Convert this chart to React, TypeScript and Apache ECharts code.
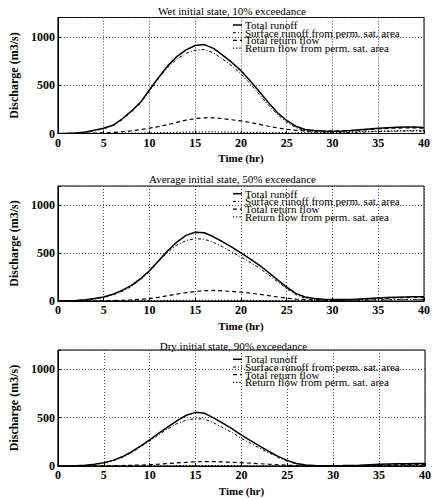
import React, { useEffect, useRef } from "react";
import * as echarts from "echarts";

// Hours since the start of the event (x axis)
const hours = [
  0, 1, 2, 3, 4, 5, 6, 7, 8, 9, 10, 11, 12, 13, 14, 15, 16, 17, 18, 19, 20,
  21, 22, 23, 24, 25, 26, 27, 28, 29, 30, 31, 32, 33, 34, 35, 36, 37, 38, 39, 40,
];

const seriesNames = [
  "Total runoff",
  "Surface runoff from perm. sat. area",
  "Total return flow",
  "Return flow from perm. sat. area",
];

const panelTitles = [
  "Wet initial state, 10% exceedance",
  "Average initial state, 50% exceedance",
  "Dry initial state, 90% exceedance",
];

const yTicks = [0, 500, 1000];
const xTicks = [0, 5, 10, 15, 20, 25, 30, 35, 40];

// Wet initial state (m3/s)
const wetTotal = [
  0, 2, 5, 15, 35, 55, 85, 150, 230, 320, 450, 580, 700, 795, 865, 910, 920, 880, 810, 735, 650,
  545, 435, 320, 215, 135, 75, 42, 30, 25, 24, 27, 32, 38, 46, 54, 60, 64, 66, 66, 62,
];
const wetSurface = [
  0, 1, 3, 10, 28, 48, 78, 140, 220, 310, 440, 570, 685, 770, 830, 862, 868, 835, 770, 700, 615,
  515, 405, 295, 195, 118, 60, 28, 15, 10, 8, 9, 11, 14, 17, 20, 22, 24, 25, 26, 25,
];
const wetReturn = [
  0, 0, 1, 2, 4, 7, 11, 18, 28, 40, 55, 72, 92, 115, 138, 155, 163, 162, 154, 142, 130,
  115, 95, 75, 58, 43, 33, 27, 25, 24, 24, 26, 30, 35, 42, 48, 53, 56, 58, 58, 55,
];
const wetPermReturn = [
  0, 0, 0, 1, 1, 2, 2, 3, 4, 5, 6, 8, 10, 12, 14, 15, 16, 16, 15, 14, 13,
  12, 11, 10, 9, 8, 8, 9, 10, 11, 12, 14, 16, 19, 22, 25, 27, 29, 30, 31, 30,
];

// Average initial state (m3/s)
const avgTotal = [
  0, 1, 4, 12, 25, 42, 70, 110, 160, 230, 315, 420, 525, 615, 685, 718, 712, 670, 618, 562, 502,
  440, 375, 300, 220, 145, 80, 42, 25, 18, 15, 15, 16, 20, 26, 32, 36, 40, 42, 44, 45,
];
const avgSurface = [
  0, 0, 2, 8, 20, 36, 62, 100, 150, 220, 305, 410, 510, 585, 630, 650, 645, 612, 565, 512, 460,
  405, 345, 275, 200, 128, 65, 30, 12, 8, 6, 6, 7, 8, 10, 12, 13, 14, 15, 16, 16,
];
const avgReturn = [
  0, 0, 0, 1, 2, 3, 5, 8, 12, 18, 25, 38, 55, 72, 88, 100, 108, 110, 106, 100, 92,
  82, 70, 56, 42, 30, 20, 14, 12, 11, 10, 11, 13, 17, 22, 27, 31, 34, 36, 38, 38,
];
const avgPermReturn = [
  0, 0, 0, 0, 1, 1, 1, 2, 2, 3, 4, 5, 6, 7, 8, 8, 8, 8, 7, 7, 6,
  6, 5, 5, 4, 4, 4, 4, 5, 5, 6, 7, 8, 9, 10, 11, 12, 13, 14, 15, 15,
];

// Dry initial state (m3/s)
const dryTotal = [
  0, 0, 2, 7, 18, 35, 58, 95, 145, 205, 270, 340, 405, 470, 525, 555, 545, 495, 440, 385, 320,
  262, 205, 150, 100, 58, 25, 10, 5, 3, 3, 4, 6, 9, 13, 17, 20, 22, 24, 25, 25,
];
const drySurface = [
  0, 0, 1, 5, 15, 30, 52, 88, 138, 198, 260, 325, 385, 440, 475, 490, 485, 445, 395, 345, 285,
  235, 183, 135, 88, 50, 20, 6, 2, 1, 1, 1, 2, 3, 4, 5, 6, 7, 8, 8, 8,
];
const dryReturn = [
  0, 0, 0, 0, 1, 2, 3, 5, 7, 10, 14, 19, 25, 32, 38, 43, 46, 45, 42, 38, 34,
  29, 24, 18, 13, 8, 5, 3, 2, 2, 2, 3, 4, 6, 8, 10, 12, 13, 14, 15, 15,
];
const dryPermReturn = [
  0, 0, 0, 0, 0, 0, 1, 1, 1, 1, 2, 2, 2, 3, 3, 4, 4, 4, 3, 3, 3,
  2, 2, 2, 2, 1, 1, 1, 1, 1, 1, 1, 2, 2, 3, 3, 4, 4, 5, 5, 5,
];

const panelData = [
  [wetTotal, wetSurface, wetReturn, wetPermReturn],
  [avgTotal, avgSurface, avgReturn, avgPermReturn],
  [dryTotal, drySurface, dryReturn, dryPermReturn],
];

const SERIF = "'Liberation Serif', 'Times New Roman', serif";

const grids = [
  { left: 40, top: 17.5, width: 384, height: 116 },
  { left: 41, top: 186, width: 383, height: 115 },
  { left: 42, top: 350, width: 383, height: 116 },
];
const titleCenters = [11, 179, 345.5];
// legend: first row centre of each panel, row spacing, icon and text x
const legendFirstRow = [25, 193.7, 359.3];
const legendRowStep = 7.7;
const legendIconX = [233, 242];
const legendTextX = 245;

const lineStyles: any[] = [
  { width: 1.5, type: "solid", dash: null },
  { width: 1, type: [3, 2, 1, 2], dash: [3, 2, 1, 2] },
  { width: 1.2, type: [4, 3], dash: [4, 3] },
  { width: 1.2, type: [1.2, 2], dash: [1.2, 2] },
];

export default function App() {
  const ref = useRef<HTMLDivElement>(null);

  useEffect(() => {
    if (!ref.current) return;
    const chart = echarts.init(ref.current, null, { renderer: "svg" });

    const gridLine = { show: true, lineStyle: { color: "#444", type: [1, 2], width: 1 } };

    const xAxis = grids.map((_, i) => ({
      type: "value",
      gridIndex: i,
      min: xTicks[0],
      max: xTicks[xTicks.length - 1],
      interval: 5,
      name: "Time (hr)",
      nameLocation: "middle",
      nameGap: 19,
      nameTextStyle: { fontFamily: SERIF, fontSize: 11, fontWeight: "bold", color: "#000" },
      axisLine: { show: true, lineStyle: { color: "#000", width: 1 } },
      axisTick: { show: true, inside: true, length: 3, lineStyle: { color: "#000" } },
      axisLabel: { margin: 3, fontFamily: SERIF, fontSize: 12, fontWeight: "bold", color: "#000" },
      splitLine: gridLine,
    }));

    const yAxis = grids.map((_, i) => ({
      type: "value",
      gridIndex: i,
      min: 0,
      max: 1200,
      interval: 500,
      name: "Discharge (m3/s)",
      nameLocation: "middle",
      nameGap: 28,
      nameTextStyle: { fontFamily: SERIF, fontSize: 12, fontWeight: "bold", color: "#000" },
      axisLine: { show: true, lineStyle: { color: "#000", width: 1 } },
      axisTick: { show: true, inside: true, length: 3, lineStyle: { color: "#000" } },
      axisLabel: {
        margin: 3,
        fontFamily: SERIF,
        fontSize: 12,
        fontWeight: "bold",
        color: "#000",
        formatter: (v: number) => (yTicks.includes(v) ? String(v) : ""),
      },
      splitLine: gridLine,
    }));

    const series: any[] = [];
    panelData.forEach((panel, p) => {
      panel.forEach((values, k) => {
        series.push({
          type: "line",
          name: seriesNames[k],
          xAxisIndex: p,
          yAxisIndex: p,
          symbol: "none",
          silent: true,
          lineStyle: { color: "#000", width: lineStyles[k].width, type: lineStyles[k].type },
          itemStyle: { color: "#000" },
          data: hours.map((t, j) => [t, values[j]]),
          z: 5 - k,
        });
      });
    });

    const graphics: any[] = [];
    panelTitles.forEach((text, i) => {
      graphics.push({
        type: "text",
        x: grids[i].left + grids[i].width / 2,
        y: titleCenters[i],
        silent: true,
        style: {
          text,
          textAlign: "center",
          textVerticalAlign: "middle",
          font: `11px ${SERIF}`,
          fill: "#000",
        },
      });
      // legend rows drawn tightly stacked, as in the original figure
      seriesNames.forEach((name, k) => {
        const y = legendFirstRow[i] + k * legendRowStep;
        graphics.push({
          type: "line",
          silent: true,
          z: 10,
          shape: { x1: legendIconX[0], y1: y, x2: legendIconX[1], y2: y },
          style: {
            stroke: "#000",
            lineWidth: lineStyles[k].width,
            lineDash: lineStyles[k].dash,
          },
        });
        graphics.push({
          type: "text",
          silent: true,
          z: 10,
          x: legendTextX,
          y,
          style: {
            text: name,
            textAlign: "left",
            textVerticalAlign: "middle",
            font: `11px ${SERIF}`,
            fill: "#000",
          },
        });
      });
    });

    chart.setOption({
      animation: false,
      backgroundColor: "#fff",
      grid: grids.map((g) => ({ ...g, show: true, borderColor: "#000", borderWidth: 1, backgroundColor: "transparent" })),
      xAxis,
      yAxis,
      series,
      graphic: graphics,
    });

    return () => chart.dispose();
  }, []);

  return (
    <div
      ref={ref}
      style={{ position: "absolute", left: 0, top: 0, width: 434, height: 499, background: "#fff" }}
    />
  );
}
